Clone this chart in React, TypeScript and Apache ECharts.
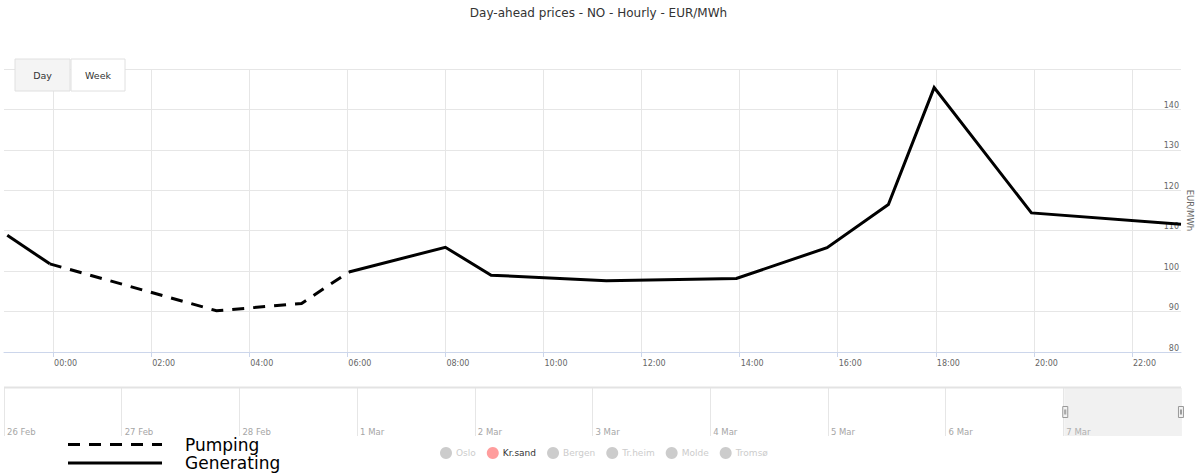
import React, { useEffect, useRef } from "react";
import * as echarts from "echarts";

// ---- data ----
const pointTimes = [
  "2023-03-06 23:04",
  "2023-03-06 23:56",
  "2023-03-07 03:20",
  "2023-03-07 05:04",
  "2023-03-07 06:02",
  "2023-03-07 08:00",
  "2023-03-07 08:56",
  "2023-03-07 11:17",
  "2023-03-07 13:56",
  "2023-03-07 15:47",
  "2023-03-07 17:02",
  "2023-03-07 17:58",
  "2023-03-07 19:57",
  "2023-03-07 23:00",
];
const prices = [108.9, 101.8, 90.2, 92.0, 99.8, 105.9, 99.0, 97.6, 98.2, 105.8, 116.5, 145.4, 114.4, 111.6];
// mode of each segment between consecutive points
const segmentModes = [
  "Generating", "Pumping", "Pumping", "Pumping", "Generating", "Generating", "Generating",
  "Generating", "Generating", "Generating", "Generating", "Generating", "Generating",
];
const areas = ["Oslo", "Kr.sand", "Bergen", "Tr.heim", "Molde", "Tromsø"];
const activeArea = "Kr.sand";
const yTicks = { min: 80, max: 150, interval: 10 };
const viewDay = "2023-03-07";
const dayView = { min: "2023-03-06 23:00", max: "2023-03-07 23:00" };
const hourTicks = ["00:00", "02:00", "04:00", "06:00", "08:00", "10:00", "12:00", "14:00", "16:00", "18:00", "20:00", "22:00"];
const navigatorRange = { min: "2023-02-26 00:00", max: "2023-03-08 00:00" };
const navigatorDays = [
  "2023-02-26", "2023-02-27", "2023-02-28", "2023-03-01", "2023-03-02",
  "2023-03-03", "2023-03-04", "2023-03-05", "2023-03-06", "2023-03-07",
];
const navigatorWindow = { start: "2023-03-07 00:00", end: "2023-03-08 00:00" };
const buttons = ["Day", "Week"];
const modeLegend = ["Pumping", "Generating"];

const FONT = "DejaVu Sans";

const ts = (s: string) => +echarts.time.parse(s);

function buildRuns() {
  const runs: { mode: string; data: [string, number][] }[] = [];
  segmentModes.forEach((mode, i) => {
    const last = runs[runs.length - 1];
    if (last && last.mode === mode) {
      last.data.push([pointTimes[i + 1], prices[i + 1]]);
    } else {
      runs.push({
        mode,
        data: [
          [pointTimes[i], prices[i]],
          [pointTimes[i + 1], prices[i + 1]],
        ],
      });
    }
  });
  return runs;
}

export default function App() {
  const ref = useRef<HTMLDivElement>(null);

  useEffect(() => {
    if (!ref.current) return;
    const chart = echarts.init(ref.current, undefined, { renderer: "svg" });

    const hourValues = hourTicks.map((h) => ts(viewDay + " " + h));
    const dayValues = navigatorDays.map((d) => ts(d + " 00:00"));

    const runs = buildRuns();
    const priceSeries = runs.map((r) => ({
      name: activeArea,
      type: "line",
      xAxisIndex: 0,
      yAxisIndex: 0,
      showSymbol: false,
      symbol: "none",
      data: r.data,
      itemStyle: { color: "#ff9d9d" },
      lineStyle: {
        color: "#000",
        width: 3,
        type: r.mode === "Pumping" ? [12, 9] : "solid",
        cap: "butt",
        join: "miter",
      },
      z: 5,
    }));
    const otherSeries = areas
      .filter((a) => a !== activeArea)
      .map((a) => ({
        name: a,
        type: "line",
        xAxisIndex: 0,
        yAxisIndex: 0,
        showSymbol: false,
        data: [] as any[],
        itemStyle: { color: "#ccc" },
      }));

    const selected: Record<string, boolean> = {};
    areas.forEach((a) => (selected[a] = a === activeArea));

    const graphics: any[] = [];
    // range buttons
    buttons.forEach((b, i) => {
      const x = i === 0 ? 15 : 71;
      const w = i === 0 ? 55 : 54;
      graphics.push({
        type: "rect",
        shape: { x, y: 59, width: w, height: 32 },
        style: { fill: i === 0 ? "#f4f4f4" : "#fff", stroke: "#e0e0e0", lineWidth: 1 },
        z: 100,
      });
      graphics.push({
        type: "text",
        x: x + w / 2,
        y: 75,
        style: {
          text: b,
          fill: "#333",
          fontSize: 9.5,
          fontFamily: FONT,
          align: "center",
          verticalAlign: "middle",
        },
        z: 101,
      });
    });
    // navigator top border
    graphics.push({
      type: "line",
      shape: { x1: 4, y1: 387.5, x2: 1181, y2: 387.5 },
      style: { stroke: "#e3e3e3", lineWidth: 2 },
      z: 50,
    });
    // mode legend: line samples and labels
    modeLegend.forEach((m, i) => {
      const y = i === 0 ? 444.5 : 463;
      graphics.push({
        type: "line",
        shape: { x1: 68, y1: y, x2: 162, y2: y },
        style: {
          stroke: "#000",
          lineWidth: 3,
          lineDash: m === "Pumping" ? [12, 9] : null,
        },
        z: 100,
      });
      graphics.push({
        type: "text",
        x: 185,
        y: y,
        style: {
          text: m,
          fill: "#000",
          fontSize: 17,
          fontFamily: FONT,
          verticalAlign: "middle",
        },
        z: 100,
      });
    });

    const option: any = {
      animation: false,
      textStyle: { fontFamily: FONT },
      title: {
        text: "Day-ahead prices - NO - Hourly - EUR/MWh",
        left: "center",
        top: 2,
        textStyle: { fontSize: 12, fontWeight: "normal", color: "#333", fontFamily: FONT },
      },
      legend: {
        data: areas.map((a) =>
          a === activeArea ? { name: a, itemStyle: { color: "#ff9d9d", borderWidth: 0 } } : { name: a }
        ),
        selected,
        icon: "circle",
        left: 440,
        top: 447,
        itemWidth: 12,
        itemHeight: 12,
        itemGap: 11,
        padding: 0,
        inactiveColor: "#ccc",
        textStyle: { fontSize: 9, color: "#333", fontFamily: FONT, padding: [0, 0, 0, -1] },
      },
      grid: [
        { left: 4, right: 16, top: 69, height: 283, containLabel: false, outerBoundsMode: "none" },
        { left: 4, right: 16, top: 388, height: 48, containLabel: false, outerBoundsMode: "none" },
      ],
      xAxis: [
        {
          type: "time",
          gridIndex: 0,
          min: dayView.min,
          max: dayView.max,
          axisLine: { show: true, lineStyle: { color: "#ccd6eb", width: 1 } },
          axisTick: { show: true, length: 5, customValues: hourValues, lineStyle: { color: "#ccd6eb" } },
          axisLabel: {
            customValues: hourValues,
            formatter: "{HH}:{mm}",
            align: "left",
            fontSize: 8,
            color: "#666",
            margin: 7,
            padding: [0, 0, 0, 1],
            hideOverlap: false,
          },
          splitLine: {
            show: true,
            showMinLine: false,
            showMaxLine: false,
            lineStyle: { color: "#e6e6e6", width: 1 },
          },
        },
        {
          type: "time",
          gridIndex: 1,
          min: navigatorRange.min,
          max: navigatorRange.max,
          axisLine: { show: false },
          axisTick: { show: false, customValues: dayValues },
          axisLabel: {
            customValues: dayValues,
            inside: true,
            formatter: "{d} {MMM}",
            align: "left",
            verticalAlign: "bottom",
            fontSize: 8.5,
            color: "#a6a6a6",
            margin: 0,
            padding: [0, 0, 0, 3],
            hideOverlap: false,
          },
          splitLine: {
            show: true,
            showMaxLine: false,
            lineStyle: { color: "#e6e6e6", width: 1 },
          },
        },
        {
          type: "time",
          gridIndex: 1,
          min: navigatorRange.min,
          max: navigatorRange.max,
          show: false,
        },
      ],
      yAxis: [
        {
          type: "value",
          gridIndex: 0,
          position: "right",
          min: yTicks.min,
          max: yTicks.max,
          interval: yTicks.interval,
          name: "EUR/MWh",
          nameLocation: "middle",
          nameRotate: -90,
          nameGap: 4,
          nameMoveOverlap: false,
          nameTextStyle: { fontSize: 8.5, color: "#666", fontFamily: FONT },
          axisLine: { show: false },
          axisTick: { show: false },
          axisLabel: {
            inside: true,
            fontSize: 8,
            color: "#666",
            margin: 2,
            verticalAlign: "bottom",
            showMaxLabel: false,
          },
          splitLine: { show: true, lineStyle: { color: "#e6e6e6", width: 1 } },
        },
        { type: "value", gridIndex: 1, show: false, min: 0, max: 1 },
      ],
      dataZoom: [
        {
          type: "slider",
          xAxisIndex: [2],
          filterMode: "none",
          startValue: navigatorWindow.start,
          endValue: navigatorWindow.end,
          left: 4,
          right: 16,
          top: 388,
          height: 48,
          showDetail: false,
          showDataShadow: false,
          brushSelect: false,
          zoomLock: true,
          backgroundColor: "rgba(0,0,0,0)",
          borderColor: "rgba(0,0,0,0)",
          fillerColor: "rgba(204,204,204,0.27)",
          handleIcon: "path://M0,0H5V11H0Z M2,3V8 M3,3V8",
          handleSize: 11,
          handleStyle: { color: "#f2f2f2", borderColor: "#999", borderWidth: 1 },
          moveHandleSize: 0,
          moveHandleStyle: { opacity: 0 },
          emphasis: {
            handleStyle: { color: "#f2f2f2", borderColor: "#999", borderWidth: 1 },
            moveHandleStyle: { opacity: 0 },
          },
          z: 2,
        },
      ],
      series: [...priceSeries, ...otherSeries],
      graphic: graphics,
    };

    chart.setOption(option);
    return () => chart.dispose();
  }, []);

  return (
    <div
      ref={ref}
      style={{ position: "fixed", left: 0, top: 0, width: 1197, height: 474, background: "#fff" }}
    />
  );
}
